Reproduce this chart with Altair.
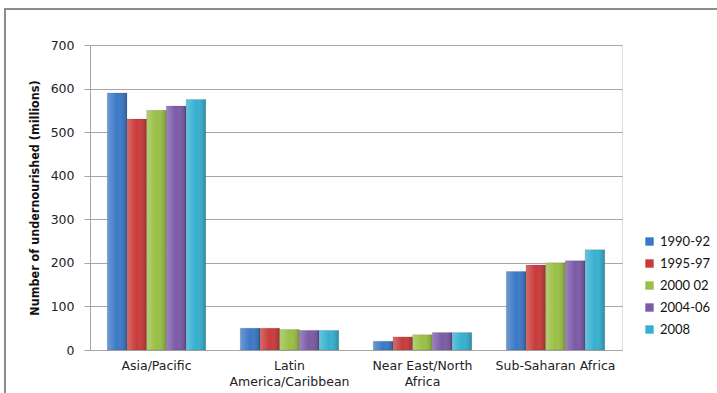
import altair as alt
import pandas as pd

regions = ["Asia/Pacific", "Latin America/Caribbean", "Near East/North Africa", "Sub-Saharan Africa"]
periods = ["1990-92", "1995-97", "2000 02", "2004-06", "2008"]
v_1990 = [590, 50, 20, 180]
v_1995 = [530, 50, 30, 195]
v_2000 = [550, 47, 35, 200]
v_2004 = [560, 45, 40, 205]
v_2008 = [575, 45, 40, 230]
series = [v_1990, v_1995, v_2000, v_2004, v_2008]
colors = ["#3A78C6", "#C93A3A", "#9ABF45", "#7B5AA6", "#35B0D0"]

rows = []
for p, vals in zip(periods, series):
    for r, v in zip(regions, vals):
        rows.append({"region": r, "period": p, "value": v})
df = pd.DataFrame(rows)

label_expr = ("datum.value == 'Latin America/Caribbean' ? ['Latin', 'America/Caribbean'] : "
              "datum.value == 'Near East/North Africa' ? ['Near East/North', 'Africa'] : datum.value")

x = alt.X("region:N", sort=regions, title=None,
          scale=alt.Scale(paddingInner=0.26, paddingOuter=0.13),
          axis=alt.Axis(labelExpr=label_expr, labelAngle=0, labelFont="DejaVu Sans", labelFontSize=12.5,
                        labelColor="#222222", labelPadding=9, ticks=False, domainColor="#A6A6A6",
                        labelLineHeight=16))
y = alt.Y("value:Q", title="Number of undernourished (millions)",
          scale=alt.Scale(domain=[0, 700]),
          axis=alt.Axis(values=[0, 100, 200, 300, 400, 500, 600, 700], labelFont="DejaVu Sans",
                        labelFontSize=12.5, labelColor="#222222", gridColor="#A6A6A6", domainColor="#A6A6A6",
                        tickColor="#A6A6A6", tickSize=6, labelPadding=10,
                        titleFont="DejaVu Sans Condensed", titleFontSize=12.5, titleFontWeight="bold",
                        titleColor="#111111", titlePadding=9))

bars = alt.Chart(df).mark_bar(stroke="#2a2a2a", strokeOpacity=0.25, strokeWidth=0.5).encode(
    x=x, y=y,
    xOffset=alt.XOffset("period:N", sort=periods),
    color=alt.Color("period:N", sort=periods, scale=alt.Scale(domain=periods, range=colors),
                    legend=alt.Legend(title=None, orient="none", legendX=553, legendY=190,
                                      symbolType="square", symbolSize=70, labelFont="Lato",
                                      labelFontSize=13, labelColor="#111111", rowPadding=8,
                                      symbolStrokeWidth=0)),
)

shade = alt.Chart(df).mark_bar(
    fill=alt.Gradient(gradient="linear", x1=0, x2=1, y1=0, y2=0,
                      stops=[alt.GradientStop(offset=0, color="rgba(255,255,255,0.25)"),
                             alt.GradientStop(offset=0.5, color="rgba(255,255,255,0.0)"),
                             alt.GradientStop(offset=1, color="rgba(0,0,0,0.22)")])
).encode(x=x, y=y, xOffset=alt.XOffset("period:N", sort=periods))

frame = alt.Chart(df).mark_rect(fill=None, stroke="#8c8c8c", strokeWidth=1.5).encode(
    x=alt.value(-85), x2=alt.value(700), y=alt.value(-36), y2=alt.value(400)
)

chart = alt.layer(frame, bars, shade).properties(
    width=532, height=305,
    autosize=alt.AutoSizeParams(type="none"),
    padding={"left": 90, "top": 45, "right": 95, "bottom": 43},
).configure_view(stroke=None).configure(background="white")

chart.save("out.html", embed_options={"renderer": "svg", "actions": False})
